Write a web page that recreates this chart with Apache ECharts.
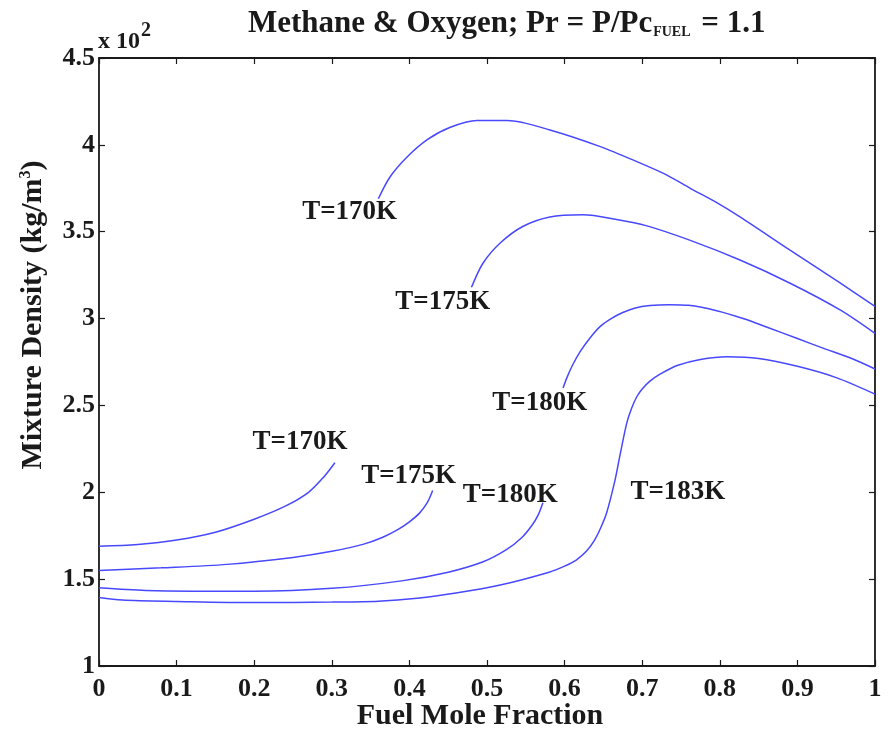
<!DOCTYPE html>
<html lang="en">
<head>
<meta charset="UTF-8">
<title>Methane & Oxygen mixture density</title>
<script src="https://cdn.jsdelivr.net/npm/echarts@6/dist/echarts.min.js"></script>
<style>
    * { margin: 0; padding: 0; }
    body { background: #fff; }
    #chart { width: 888px; height: 731px; }
</style>
</head>
<body>
<div id="chart"></div>
<script>
    // curve points: [fuel mole fraction, density x100 kg/m3]
    const t170Low = [[0, 1.69], [0.05, 1.70], [0.1, 1.725], [0.15, 1.77], [0.2, 1.845], [0.24, 1.92], [0.27, 2.0], [0.29, 2.09], [0.304, 2.17]];
    const t175Low = [[0, 1.55], [0.08, 1.565], [0.165, 1.585], [0.25, 1.625], [0.3, 1.66], [0.34, 1.70], [0.365, 1.74], [0.385, 1.785], [0.40, 1.83], [0.413, 1.88], [0.423, 1.94], [0.43, 2.01]];
    const t180Low = [[0, 1.45], [0.06, 1.435], [0.2, 1.43], [0.3, 1.447], [0.39, 1.49], [0.45, 1.54], [0.495, 1.60], [0.525, 1.67], [0.545, 1.74], [0.558, 1.81], [0.566, 1.87], [0.572, 1.94]];
    const t183 = [[0, 1.395], [0.03, 1.38], [0.1, 1.372], [0.2, 1.365], [0.3, 1.368], [0.36, 1.373], [0.41, 1.39], [0.46, 1.42], [0.517, 1.466], [0.58, 1.54], [0.60, 1.575], [0.615, 1.61], [0.628, 1.66], [0.638, 1.72], [0.646, 1.79], [0.654, 1.879], [0.665, 2.07], [0.671, 2.205], [0.68, 2.397], [0.686, 2.48], [0.693, 2.55], [0.70, 2.595], [0.71, 2.64], [0.723, 2.68], [0.745, 2.73], [0.775, 2.765], [0.81, 2.78], [0.85, 2.77], [0.9, 2.725], [0.95, 2.66], [1.0, 2.565]];
    const t180Up = [[0.598, 2.60], [0.603, 2.66], [0.61, 2.73], [0.62, 2.81], [0.633, 2.89], [0.646, 2.955], [0.66, 3.0], [0.675, 3.035], [0.69, 3.06], [0.71, 3.075], [0.735, 3.08], [0.76, 3.076], [0.796, 3.045], [0.83, 3.0], [0.861, 2.95], [0.9, 2.885], [0.933, 2.83], [0.97, 2.77], [1.0, 2.71]];
    const t175Up = [[0.48, 3.18], [0.495, 3.32], [0.517, 3.435], [0.546, 3.53], [0.581, 3.585], [0.624, 3.597], [0.667, 3.57], [0.705, 3.535], [0.762, 3.45], [0.826, 3.337], [0.89, 3.205], [0.955, 3.05], [1.0, 2.915]];
    const t170Up = [[0.36, 3.69], [0.375, 3.815], [0.397, 3.93], [0.423, 4.03], [0.452, 4.10], [0.487, 4.14], [0.526, 4.14], [0.581, 4.086], [0.646, 3.99], [0.697, 3.896], [0.73, 3.83], [0.762, 3.75], [0.795, 3.67], [0.826, 3.585], [0.89, 3.395], [0.955, 3.205], [1.0, 3.07]];

    const curves = [t170Low, t175Low, t180Low, t183, t180Up, t175Up, t170Up];

    // curve labels: [x, y, text]
    const curveLabels = [
        [0.323, 3.614, 'T=170K'],
        [0.443, 3.096, 'T=175K'],
        [0.568, 2.514, 'T=180K'],
        [0.746, 2.0, 'T=183K'],
        [0.259, 2.29, 'T=170K'],
        [0.399, 2.094, 'T=175K'],
        [0.530, 1.984, 'T=180K']
    ];

    const FONT = '"Liberation Serif", "Times New Roman", serif';
    const INK = '#1a1a1a';
    const BLUE = '#4848ff';

    const chart = echarts.init(document.getElementById('chart'));

    const tickStyle = { show: true, inside: true, length: 6, lineStyle: { color: INK, width: 1.2 } };
    const lineStyleAxis = { show: true, onZero: false, lineStyle: { color: INK, width: 1.8 } };

    const series = curves.map(function (pts) {
        return {
            type: 'line',
            data: pts,
            showSymbol: false,
            smooth: 0.3,
            lineStyle: { color: BLUE, width: 1.5 },
            silent: true,
            z: 3
        };
    });

    series.push({
        type: 'scatter',
        symbolSize: 0,
        itemStyle: { opacity: 1 },
        data: curveLabels.map(function (d) { return { value: [d[0], d[1]], name: d[2] }; }),
        label: {
            show: true,
            position: 'inside',
            formatter: '{b}',
            fontFamily: FONT,
            fontWeight: 'bold',
            fontSize: 27,
            color: INK,
            opacity: 1
        },
        silent: true,
        z: 4
    });

    chart.setOption({
        animation: false,
        title: {
            text: '{a|Methane & Oxygen; Pr = P/Pc}{s|FUEL}{a| = 1.1}',
            left: 243,
            top: 3,
            textStyle: {
                rich: {
                    a: { fontFamily: FONT, fontWeight: 'bold', fontSize: 31, color: INK },
                    s: { fontFamily: FONT, fontWeight: 'bold', fontSize: 14, color: INK, verticalAlign: 'bottom', padding: [0, 3, 0, 1] }
                }
            }
        },
        grid: { left: 99, right: 13, top: 58, bottom: 65, show: false },
        xAxis: [{
            type: 'value', min: 0, max: 1, interval: 0.1, position: 'bottom',
            axisLine: lineStyleAxis, axisTick: tickStyle, splitLine: { show: false },
            axisLabel: {
                margin: 10, fontFamily: FONT, fontWeight: 'bold', fontSize: 26, color: INK,
                formatter: function (v) { return String(+v.toFixed(1)); }
            }
        }, {
            type: 'value', min: 0, max: 1, interval: 0.1, position: 'top',
            axisLine: lineStyleAxis, axisTick: tickStyle, splitLine: { show: false },
            axisLabel: { show: false }
        }],
        yAxis: [{
            type: 'value', min: 1, max: 4.5, interval: 0.5, position: 'left',
            axisLine: lineStyleAxis, axisTick: tickStyle, splitLine: { show: false },
            axisLabel: {
                margin: 4, fontFamily: FONT, fontWeight: 'bold', fontSize: 26, color: INK,
                formatter: function (v) { return String(+v.toFixed(1)); }
            }
        }, {
            type: 'value', min: 1, max: 4.5, interval: 0.5, position: 'right',
            axisLine: lineStyleAxis, axisTick: tickStyle, splitLine: { show: false },
            axisLabel: { show: false }
        }],
        graphic: [{
            type: 'text',
            x: 480, y: 716,
            style: {
                text: 'Fuel Mole Fraction',
                font: 'bold 30px ' + FONT,
                fill: INK, align: 'center', verticalAlign: 'middle'
            }
        }, {
            type: 'text',
            x: 33, y: 315,
            rotation: Math.PI / 2,
            style: {
                text: '{a|Mixture Density (kg/m}{s|3}{a|)}',
                align: 'center', verticalAlign: 'middle',
                rich: {
                    a: { fontFamily: FONT, fontWeight: 'bold', fontSize: 30, fill: INK, color: INK },
                    s: { fontFamily: FONT, fontWeight: 'bold', fontSize: 16, fill: INK, color: INK, verticalAlign: 'top' }
                }
            }
        }, {
            type: 'text',
            x: 98, y: 42,
            style: {
                text: 'x 10',
                font: 'bold 24px ' + FONT,
                fill: INK, align: 'left', verticalAlign: 'middle'
            }
        }, {
            type: 'text',
            x: 141, y: 31,
            style: {
                text: '2',
                font: 'bold 20px ' + FONT,
                fill: INK, align: 'left', verticalAlign: 'middle'
            }
        }],
        series: series
    });

    window.addEventListener('resize', function () {
        chart.resize();
    });
</script>
</body>
</html>
